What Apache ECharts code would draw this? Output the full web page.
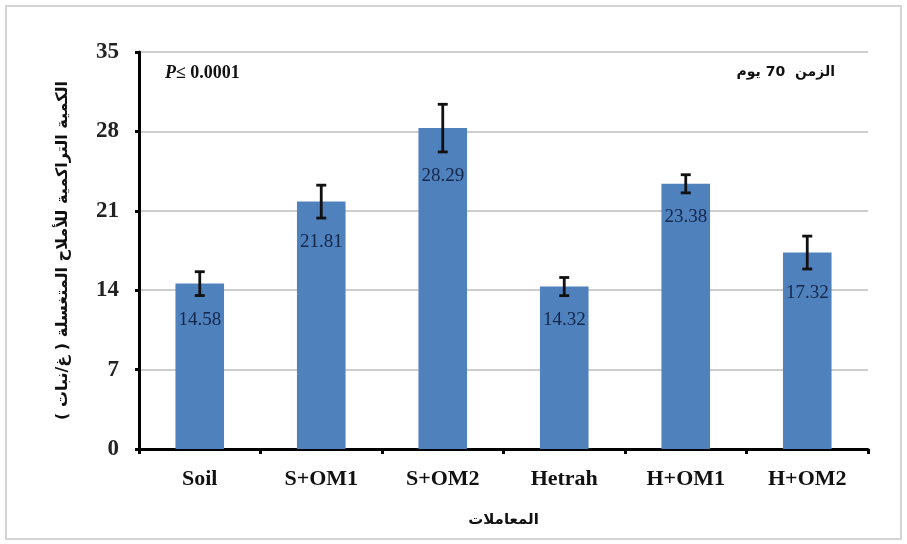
<!DOCTYPE html>
<html>
<head>
<meta charset="utf-8">
<script src="https://cdn.jsdelivr.net/npm/echarts@6/dist/echarts.min.js"></script>
<style>
  html, body { margin: 0; padding: 0; background: #fff; }
  #chart { width: 907px; height: 544px; }
</style>
</head>
<body>
<div id="chart"></div>
<script>
// Treatments and their mean cumulative leached salts with error
const categories = ['Soil', 'S+OM1', 'S+OM2', 'Hetrah', 'H+OM1', 'H+OM2'];
const meanValues = [14.58, 21.81, 28.29, 14.32, 23.38, 17.32];
const errValues = [1.05, 1.45, 2.1, 0.8, 0.8, 1.45];
const yTicks = [0, 7, 14, 21, 28, 35];

const serif = "'Liberation Serif', 'Times New Roman', 'DejaVu Serif', serif";
const arabic = "'DejaVu Sans', 'Noto Sans', sans-serif";

const errData = meanValues.map((v, i) => [i, v, errValues[i]]);

const chart = echarts.init(document.getElementById('chart'));
chart.setOption({
  animation: false,
  backgroundColor: '#ffffff',
  grid: { left: 139, right: 39, top: 52, bottom: 95, containLabel: false },
  xAxis: {
    type: 'category',
    data: categories,
    boundaryGap: true,
    name: 'المعاملات',
    nameLocation: 'middle',
    nameGap: 64,
    nameTextStyle: { fontFamily: arabic, fontWeight: 'bold', fontSize: 15, color: '#111' },
    axisLine: { lineStyle: { color: '#000', width: 3 } },
    axisTick: { show: true, length: 5, lineStyle: { color: '#000', width: 3 } },
    axisLabel: { fontFamily: serif, fontWeight: 'bold', fontSize: 22, color: '#111', margin: 19 },
    splitLine: { show: false }
  },
  yAxis: {
    type: 'value',
    min: yTicks[0],
    max: yTicks[yTicks.length - 1],
    interval: yTicks[1] - yTicks[0],
    name: 'الكمية التراكمية للأملاح المتغسلة ( غ/نبات )',
    nameLocation: 'middle',
    nameGap: 68,
    nameRotate: 90,
    nameTextStyle: { fontFamily: arabic, fontWeight: 'bold', fontSize: 16, color: '#111' },
    axisLine: { show: true, lineStyle: { color: '#000', width: 3 } },
    axisTick: { show: true, length: 4, lineStyle: { color: '#000', width: 3 } },
    axisLabel: { fontFamily: serif, fontWeight: 'bold', fontSize: 23, color: '#222', margin: 20 },
    splitLine: { show: true, lineStyle: { color: '#bcbcbc', width: 1.5 } }
  },
  series: [
    {
      type: 'bar',
      data: meanValues,
      barWidth: '40%',
      itemStyle: { color: '#4f81bd' },
      z: 2
    },
    {
      // error bars
      type: 'custom',
      data: errData,
      encode: { x: 0, y: 1 },
      z: 5,
      renderItem: function (params, api) {
        const i = api.value(0), v = api.value(1), e = api.value(2);
        const top = api.coord([i, v + e]);
        const bot = api.coord([i, v - e]);
        const cap = 5;
        const style = { stroke: '#111', lineWidth: 2.8 };
        return {
          type: 'group',
          children: [
            { type: 'line', shape: { x1: top[0], y1: top[1], x2: bot[0], y2: bot[1] }, style },
            { type: 'line', shape: { x1: top[0] - cap, y1: top[1], x2: top[0] + cap, y2: top[1] }, style },
            { type: 'line', shape: { x1: bot[0] - cap, y1: bot[1], x2: bot[0] + cap, y2: bot[1] }, style }
          ]
        };
      }
    },
    {
      // value labels placed beneath the lower whisker
      type: 'custom',
      data: errData,
      encode: { x: 0, y: 1 },
      z: 6,
      renderItem: function (params, api) {
        const i = api.value(0), v = api.value(1), e = api.value(2);
        const p = api.coord([i, v - e]);
        return {
          type: 'text',
          x: p[0],
          y: p[1] + 24,
          style: {
            text: v.toFixed(2),
            fill: '#14264a',
            font: '19px ' + serif,
            align: 'center',
            verticalAlign: 'middle'
          }
        };
      }
    }
  ],
  graphic: [
    {
      type: 'rect',
      shape: { x: 6, y: 6, width: 895, height: 533 },
      style: { fill: 'none', stroke: '#d4d4d4', lineWidth: 2 },
      silent: true
    },
    {
      type: 'text',
      left: 165,
      top: 64,
      style: {
        rich: {
          p: { fontFamily: serif, fontStyle: 'italic', fontWeight: 'bold', fontSize: 18, fill: '#111' },
          v: { fontFamily: serif, fontWeight: 'bold', fontSize: 18, fill: '#111' }
        },
        text: '{p|P}{v|≤ 0.0001}'
      }
    },
    {
      type: 'text',
      right: 72,
      top: 65,
      style: {
        text: 'الزمن  70 يوم',
        fontFamily: arabic,
        fontWeight: 'bold',
        fontSize: 14,
        fill: '#111'
      }
    }
  ]
});
</script>
</body>
</html>
